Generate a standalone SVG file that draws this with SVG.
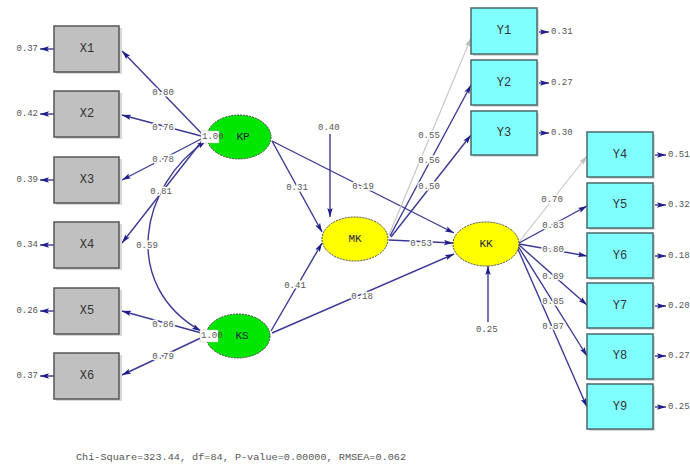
<svg xmlns="http://www.w3.org/2000/svg" width="690" height="466" viewBox="0 0 690 466">
<style>
.bg{fill:#fff}
.obsX{fill:#c0c0c0;stroke:#555;stroke-width:1.5}
.obsY{fill:#80ffff;stroke:#4a6868;stroke-width:1.5}
.shadow{fill:#d8d8d8}
.lat{stroke:#444;stroke-width:1;stroke-dasharray:2 1}
.green{fill:#00e600}
.yellow{fill:#ffff00}
.nt{font-family:"Liberation Mono",monospace;font-size:12px;fill:#333;text-anchor:middle;dominant-baseline:central}
.lt{font-family:"Liberation Mono",monospace;font-size:11px;fill:#224;text-anchor:middle;dominant-baseline:central}
.lab{font-family:"Liberation Mono",monospace;font-size:9px;fill:#555;text-anchor:middle;dominant-baseline:central;stroke:#fff;stroke-width:3;paint-order:stroke}
.err{font-family:"Liberation Mono",monospace;font-size:9px;fill:#555;dominant-baseline:central}
.c{fill:none;stroke:#3a3a96;stroke-width:1.4;marker-end:url(#ah)}
.cl{fill:none;stroke:#c8c8c8;stroke-width:1.2;marker-end:url(#ahl)}
.foot{font-family:"Liberation Mono",monospace;font-size:9px;fill:#555}
</style>
<defs>
<marker id="ah" viewBox="0 0 10 6" refX="10" refY="3" markerWidth="9" markerHeight="6" markerUnits="userSpaceOnUse" orient="auto-start-reverse"><path d="M0,0 L10,3 L0,6 L2,3 Z" fill="#1e1e8a"/></marker>
<marker id="ahl" viewBox="0 0 10 6" refX="10" refY="3" markerWidth="9" markerHeight="6" markerUnits="userSpaceOnUse" orient="auto"><path d="M0,0 L10,3 L0,6 L2,3 Z" fill="#bbb"/></marker>
</defs>
<rect class="bg" x="0" y="0" width="690" height="466"/>

<g id="connectors">
<line class="c" x1="205" y1="137" x2="122" y2="51"/>
<line class="c" x1="205" y1="137" x2="122" y2="115"/>
<line class="c" x1="205" y1="137" x2="122" y2="180"/>
<line class="c" x1="205" y1="137" x2="122" y2="243"/>
<path class="c" d="M206,141 C140,185 120,285 201,331" style="marker-start:url(#ah)"/>
<line class="c" x1="205" y1="334" x2="122" y2="311"/>
<line class="c" x1="205" y1="336" x2="122" y2="375"/>
<line class="c" x1="54" y1="49" x2="40" y2="49"/>
<line class="c" x1="54" y1="114" x2="40" y2="114"/>
<line class="c" x1="54" y1="180" x2="40" y2="180"/>
<line class="c" x1="54" y1="245" x2="40" y2="245"/>
<line class="c" x1="54" y1="311" x2="40" y2="311"/>
<line class="c" x1="54" y1="376" x2="40" y2="376"/>
<line class="c" x1="272" y1="141" x2="322" y2="232"/>
<line class="c" x1="272" y1="141" x2="454" y2="233"/>
<line class="c" x1="330" y1="134" x2="330" y2="217"/>
<line class="c" x1="271" y1="331" x2="322" y2="243"/>
<line class="c" x1="272" y1="333" x2="454" y2="254"/>
<line class="c" x1="389" y1="240" x2="453" y2="243"/>
<line class="c" x1="488" y1="322" x2="488" y2="266"/>
<line class="cl" x1="389" y1="235" x2="471" y2="38"/>
<line class="c" x1="390" y1="236" x2="471" y2="85"/>
<line class="c" x1="391" y1="237" x2="471" y2="135"/>
<line class="c" x1="537" y1="32" x2="549" y2="32"/>
<line class="c" x1="537" y1="83" x2="549" y2="83"/>
<line class="c" x1="537" y1="133" x2="549" y2="133"/>
<line class="cl" x1="519" y1="242" x2="587" y2="156"/>
<line class="c" x1="519" y1="243" x2="587" y2="206"/>
<line class="c" x1="519" y1="244" x2="587" y2="256"/>
<line class="c" x1="519" y1="245" x2="587" y2="305"/>
<line class="c" x1="518" y1="246" x2="587" y2="356"/>
<line class="c" x1="517" y1="247" x2="587" y2="407"/>
<line class="c" x1="653" y1="155" x2="666" y2="155"/>
<line class="c" x1="653" y1="205" x2="666" y2="205"/>
<line class="c" x1="653" y1="256" x2="666" y2="256"/>
<line class="c" x1="653" y1="306" x2="666" y2="306"/>
<line class="c" x1="653" y1="356" x2="666" y2="356"/>
<line class="c" x1="653" y1="407" x2="666" y2="407"/>
</g>

<g id="connector-labels">
<text class="lab" x="163" y="93">0.80</text>
<text class="lab" x="163" y="128">0.76</text>
<text class="lab" x="163" y="160">0.78</text>
<text class="lab" x="161" y="192">0.81</text>
<text class="lab" x="147" y="246">0.59</text>
<text class="lab" x="163" y="325">0.86</text>
<text class="lab" x="163" y="357">0.79</text>
<text class="lab" x="297" y="188">0.31</text>
<text class="lab" x="363" y="187">0.19</text>
<text class="lab" x="295" y="286">0.41</text>
<text class="lab" x="362" y="297">0.18</text>
<text class="lab" x="421" y="244">0.53</text>
<text class="lab" x="429" y="136">0.55</text>
<text class="lab" x="429" y="161">0.56</text>
<text class="lab" x="429" y="187">0.50</text>
<text class="lab" x="552" y="200">0.70</text>
<text class="lab" x="553" y="226">0.83</text>
<text class="lab" x="553" y="250">0.80</text>
<text class="lab" x="553" y="277">0.89</text>
<text class="lab" x="553" y="302">0.85</text>
<text class="lab" x="553" y="327">0.87</text>
<text class="err" x="318" y="128">0.40</text>
<text class="err" x="476" y="330">0.25</text>
<text class="err" x="38" y="49" text-anchor="end">0.37</text>
<text class="err" x="38" y="114" text-anchor="end">0.42</text>
<text class="err" x="38" y="180" text-anchor="end">0.39</text>
<text class="err" x="38" y="245" text-anchor="end">0.34</text>
<text class="err" x="38" y="311" text-anchor="end">0.26</text>
<text class="err" x="38" y="376" text-anchor="end">0.37</text>
<text class="err" x="551" y="32">0.31</text>
<text class="err" x="551" y="83">0.27</text>
<text class="err" x="551" y="133">0.30</text>
<text class="err" x="668" y="155">0.51</text>
<text class="err" x="668" y="205">0.32</text>
<text class="err" x="668" y="256">0.18</text>
<text class="err" x="668" y="306">0.20</text>
<text class="err" x="668" y="356">0.27</text>
<text class="err" x="668" y="407">0.25</text>
</g>

<g id="X1"><rect class="shadow" x="56" y="28" width="66" height="46"/><rect class="obsX" x="54" y="26" width="65" height="46"/><text class="nt" x="87" y="49">X1</text></g>
<g id="X2"><rect class="shadow" x="56" y="93" width="66" height="46"/><rect class="obsX" x="54" y="91" width="65" height="46"/><text class="nt" x="87" y="114">X2</text></g>
<g id="X3"><rect class="shadow" x="56" y="159" width="66" height="46"/><rect class="obsX" x="54" y="157" width="65" height="46"/><text class="nt" x="87" y="180">X3</text></g>
<g id="X4"><rect class="shadow" x="56" y="224" width="66" height="46"/><rect class="obsX" x="54" y="222" width="65" height="46"/><text class="nt" x="87" y="245">X4</text></g>
<g id="X5"><rect class="shadow" x="56" y="290" width="66" height="46"/><rect class="obsX" x="54" y="288" width="65" height="46"/><text class="nt" x="87" y="311">X5</text></g>
<g id="X6"><rect class="shadow" x="56" y="355" width="66" height="46"/><rect class="obsX" x="54" y="353" width="65" height="46"/><text class="nt" x="87" y="376">X6</text></g>

<g id="KP"><ellipse class="lat green" cx="239" cy="137" rx="32" ry="22"/><rect x="201" y="131" width="18" height="12" fill="#fff" stroke="#bbb" stroke-width="0.5"/><text class="err" x="202" y="137" font-size="7.5">1.00</text><text class="lt" x="243" y="137">KP</text></g>
<g id="KS"><ellipse class="lat green" cx="238" cy="336" rx="32" ry="22"/><rect x="200" y="330" width="18" height="12" fill="#fff" stroke="#bbb" stroke-width="0.5"/><text class="err" x="201" y="336" font-size="7.5">1.00</text><text class="lt" x="242" y="336">KS</text></g>
<g id="MK"><ellipse class="lat yellow" cx="355" cy="239" rx="33" ry="22"/><text class="lt" x="355" y="239">MK</text></g>
<g id="KK"><ellipse class="lat yellow" cx="486" cy="244" rx="33" ry="22"/><text class="lt" x="486" y="244">KK</text></g>

<g id="Y1"><rect class="shadow" x="473" y="10" width="66" height="46"/><rect class="obsY" x="471" y="8" width="66" height="46"/><text class="nt" x="504" y="31">Y1</text></g>
<g id="Y2"><rect class="shadow" x="473" y="62" width="66" height="45"/><rect class="obsY" x="471" y="60" width="66" height="45"/><text class="nt" x="504" y="83">Y2</text></g>
<g id="Y3"><rect class="shadow" x="473" y="113" width="66" height="44"/><rect class="obsY" x="471" y="111" width="66" height="44"/><text class="nt" x="504" y="133">Y3</text></g>
<g id="Y4"><rect class="shadow" x="589" y="134" width="66" height="45"/><rect class="obsY" x="587" y="132" width="66" height="45"/><text class="nt" x="620" y="155">Y4</text></g>
<g id="Y5"><rect class="shadow" x="589" y="185" width="66" height="45"/><rect class="obsY" x="587" y="183" width="66" height="45"/><text class="nt" x="620" y="205">Y5</text></g>
<g id="Y6"><rect class="shadow" x="589" y="235" width="66" height="45"/><rect class="obsY" x="587" y="233" width="66" height="45"/><text class="nt" x="620" y="256">Y6</text></g>
<g id="Y7"><rect class="shadow" x="589" y="285" width="66" height="45"/><rect class="obsY" x="587" y="283" width="66" height="45"/><text class="nt" x="620" y="306">Y7</text></g>
<g id="Y8"><rect class="shadow" x="589" y="336" width="66" height="45"/><rect class="obsY" x="587" y="334" width="66" height="45"/><text class="nt" x="620" y="356">Y8</text></g>
<g id="Y9"><rect class="shadow" x="589" y="386" width="66" height="45"/><rect class="obsY" x="587" y="384" width="66" height="45"/><text class="nt" x="620" y="407">Y9</text></g>

<text class="foot" x="76" y="460" textLength="330" lengthAdjust="spacingAndGlyphs">Chi-Square=323.44, df=84, P-value=0.00000, RMSEA=0.062</text>
</svg>
